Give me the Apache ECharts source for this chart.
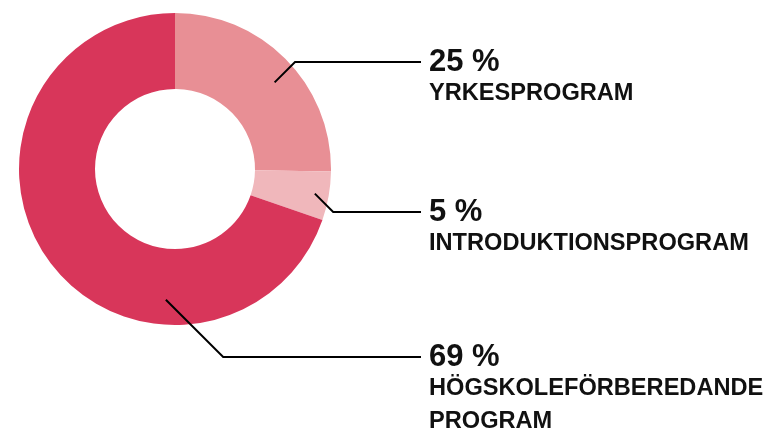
<!DOCTYPE html>
<html>
<head>
<meta charset="utf-8">
<script src="https://cdn.jsdelivr.net/npm/echarts@6/dist/echarts.min.js"></script>
<style>
  html, body { margin: 0; padding: 0; background: #fff; }
  #chart { width: 770px; height: 430px; }
</style>
</head>
<body>
<div id="chart"></div>
<script>
const categories = ['YRKESPROGRAM', 'INTRODUKTIONSPROGRAM', 'HÖGSKOLEFÖRBEREDANDE\nPROGRAM'];
const shares = [25, 5, 69];
const colors = ['#E88F95', '#F0B7BB', '#D8365A'];

// pie geometry
const center = [175, 169];
const radius = [80, 156];
// where each label line starts: [angle clockwise from 12 o'clock, distance from centre]
const lineStart = [[49, 132], [100, 142], [184, 131]];
const lineY = [62, 212, 357];
const lineEndX = 421;
const labelX = 429;

const chart = echarts.init(document.getElementById('chart'));

// the label lines start inside the ring, so they go on a transparent copy drawn on top
chart.setOption({
  animation: false,
  series: [{
    type: 'pie',
    z: 1,
    center: center,
    radius: radius,
    startAngle: 90,
    silent: true,
    data: shares.map((v, i) => ({
      name: categories[i],
      value: v,
      itemStyle: { color: colors[i] }
    })),
    label: { show: false },
    labelLine: { show: false }
  }, {
    type: 'pie',
    z: 3,
    center: center,
    radius: radius,
    startAngle: 90,
    silent: true,
    avoidLabelOverlap: false,
    data: shares.map((v, i) => ({
      name: categories[i],
      value: v,
      itemStyle: { color: 'rgba(0,0,0,0)' }
    })),
    label: {
      show: true,
      position: 'outside',
      formatter: p => '{v|' + p.value + ' %}\n{n|' + p.name + '}',
      rich: {
        v: { fontFamily: 'Liberation Sans', fontWeight: 'bold', fontSize: 31, lineHeight: 30, color: '#111' },
        n: { fontFamily: 'Liberation Sans', fontWeight: 'bold', fontSize: 23.6, lineHeight: 33, color: '#111' }
      }
    },
    labelLine: { show: true, lineStyle: { color: '#000', width: 2 } },
    labelLayout: function (params) {
      const i = params.dataIndex;
      const a = lineStart[i][0] * Math.PI / 180;
      const sx = center[0] + lineStart[i][1] * Math.sin(a);
      const sy = center[1] - lineStart[i][1] * Math.cos(a);
      const ey = lineY[i];
      const ex = sx + Math.abs(ey - sy);
      return {
        x: labelX,
        y: ey - 15,
        align: 'left',
        verticalAlign: 'top',
        labelLinePoints: [[sx, sy], [ex, ey], [lineEndX, ey]]
      };
    }
  }]
});
</script>
</body>
</html>
